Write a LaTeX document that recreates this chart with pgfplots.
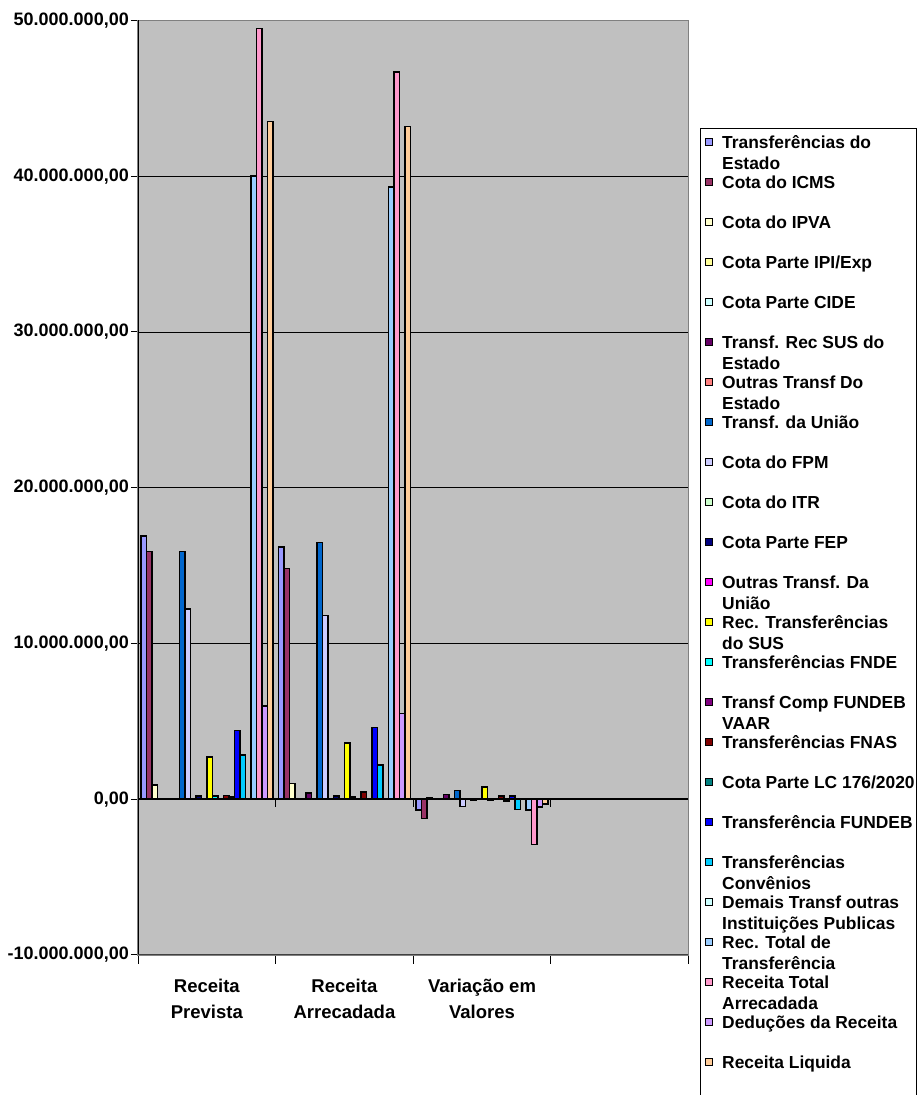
\documentclass[border=0pt]{standalone}
\usepackage{pgfplots}
\usepackage{pgfplotstable}
\pgfplotsset{compat=1.18}
\usepackage{fontspec}
\setmainfont{Liberation Sans}
\definecolor{c1}{HTML}{9999FF}
\definecolor{c2}{HTML}{993366}
\definecolor{c3}{HTML}{FFFFCC}
\definecolor{c4}{HTML}{FFFF99}
\definecolor{c5}{HTML}{CCFFFF}
\definecolor{c6}{HTML}{660066}
\definecolor{c7}{HTML}{FF8080}
\definecolor{c8}{HTML}{0066CC}
\definecolor{c9}{HTML}{CCCCFF}
\definecolor{c10}{HTML}{CCFFCC}
\definecolor{c11}{HTML}{000080}
\definecolor{c12}{HTML}{FF00FF}
\definecolor{c13}{HTML}{FFFF00}
\definecolor{c14}{HTML}{00FFFF}
\definecolor{c15}{HTML}{800080}
\definecolor{c16}{HTML}{800000}
\definecolor{c17}{HTML}{008080}
\definecolor{c18}{HTML}{0000FF}
\definecolor{c19}{HTML}{00CCFF}
\definecolor{c20}{HTML}{CCFFFF}
\definecolor{c21}{HTML}{99CCFF}
\definecolor{c22}{HTML}{FF99CC}
\definecolor{c23}{HTML}{CC99FF}
\definecolor{c24}{HTML}{FFCC99}
\definecolor{plotgrey}{HTML}{C0C0C0}
\definecolor{frame}{HTML}{808080}
\newcommand{\cf}{\fontsize{18bp}{21.7bp}\selectfont\bfseries}
\newcommand{\lf}{\fontsize{17.4bp}{21.7bp}\selectfont\bfseries}

\pgfplotstableread{
x s1 s2 s3 s4 s5 s6 s7 s8 s9 s10 s11 s12 s13 s14 s15 s16 s17 s18 s19 s20 s21 s22 s23 s24
0 16900000 15900000 900000 20000 10000 30000 0 15900000 12200000 20000 200000 0 2700000 200000 0 250000 150000 4400000 2850000 0 40000000 49500000 6000000 43500000
1 16200000 14800000 1000000 30000 10000 400000 0 16500000 11800000 10000 200000 0 3600000 150000 0 480000 30000 4600000 2200000 0 39300000 46700000 5500000 43200000
2 -700000 -1250000 80000 10000 0 300000 0 550000 -450000 -10000 -50000 0 800000 -50000 0 200000 -100000 200000 -650000 0 -700000 -2900000 -500000 -300000
}\data

\newcommand{\legentry}[4]{%
  \pgfmathsetmacro{\by}{1095-148.3-40*#1}%
  \filldraw[fill=#2,draw=black,line width=0.8bp] (705,{\by+3.3}) rectangle ++(7,7);
  \node[anchor=base west,inner sep=0pt,font=\lf] at (722,\by) {#3};
  \node[anchor=base west,inner sep=0pt,font=\lf] at (722,{\by-21.7}) {#4};
}

\begin{document}
\begin{tikzpicture}[x=1bp,y=1bp]
\begin{axis}[
  at={(138bp,140bp)}, anchor=south west,
  scale only axis, width=550.4bp, height=934.5bp,
  xmin=-0.5, xmax=3.5, ymin=-10000000, ymax=50000000,
  ybar=0pt, bar width=0.04,
  axis background/.style={fill=plotgrey},
  axis line style={draw=frame, line width=1.2bp},
  ymajorgrids, grid style={black, line width=0.9bp},
  ytick={-10000000,0,10000000,20000000,30000000,40000000,50000000},
  scaled y ticks=false,
  yticklabel style={font=\cf, inner sep=2bp, /pgf/number format/.cd, use comma, fixed, fixed zerofill, precision=2, assume math mode=true},
  xtick={0,1,2},
  xticklabels={{Receita\\Prevista},{Receita\\Arrecadada},{Variação em\\Valores}},
  xticklabel style={align=center, yshift=-14bp, font=\fontsize{18.5bp}{25.7bp}\selectfont\bfseries},
  minor xtick={-0.5,0.5,1.5,2.5,3.5},
  tick pos=left,
  tick align=outside, major tick length=7bp, minor tick length=9bp,
  major x tick style={draw=none},
  tick style={black, line width=1bp},
  every axis plot/.append style={draw=black, line width=1.5bp},
]
\draw[black, line width=2bp] (axis cs:-0.5,0) -- (axis cs:3.5,0);
\pgfplotsinvokeforeach{-0.5,0.5,1.5,2.5}{\draw[black,line width=1bp] (axis cs:#1,0) -- ([yshift=-8bp]axis cs:#1,0);}
\addplot[fill=c1] table[x=x,y=s1]{\data};
\addplot[fill=c2] table[x=x,y=s2]{\data};
\addplot[fill=c3] table[x=x,y=s3]{\data};
\addplot[fill=c4] table[x=x,y=s4]{\data};
\addplot[fill=c5] table[x=x,y=s5]{\data};
\addplot[fill=c6] table[x=x,y=s6]{\data};
\addplot[fill=c7] table[x=x,y=s7]{\data};
\addplot[fill=c8] table[x=x,y=s8]{\data};
\addplot[fill=c9] table[x=x,y=s9]{\data};
\addplot[fill=c10] table[x=x,y=s10]{\data};
\addplot[fill=c11] table[x=x,y=s11]{\data};
\addplot[fill=c12] table[x=x,y=s12]{\data};
\addplot[fill=c13] table[x=x,y=s13]{\data};
\addplot[fill=c14] table[x=x,y=s14]{\data};
\addplot[fill=c15] table[x=x,y=s15]{\data};
\addplot[fill=c16] table[x=x,y=s16]{\data};
\addplot[fill=c17] table[x=x,y=s17]{\data};
\addplot[fill=c18] table[x=x,y=s18]{\data};
\addplot[fill=c19] table[x=x,y=s19]{\data};
\addplot[fill=c20] table[x=x,y=s20]{\data};
\addplot[fill=c21] table[x=x,y=s21]{\data};
\addplot[fill=c22] table[x=x,y=s22]{\data};
\addplot[fill=c23] table[x=x,y=s23]{\data};
\addplot[fill=c24] table[x=x,y=s24]{\data};
\draw[black, line width=2bp] (rel axis cs:0,0) -- (rel axis cs:0,1);
\draw[black!75, line width=2bp] (rel axis cs:0,0) -- (rel axis cs:1,0);
\end{axis}
% legend box
\fill[white] (700,{1095-128.3}) rectangle (916,-10);
\legentry{0}{c1}{Transferências do}{Estado}
\legentry{1}{c2}{Cota do ICMS}{}
\legentry{2}{c3}{Cota do IPVA}{}
\legentry{3}{c4}{Cota Parte IPI/Exp}{}
\legentry{4}{c5}{Cota Parte CIDE}{}
\legentry{5}{c6}{Transf. Rec SUS do}{Estado}
\legentry{6}{c7}{Outras Transf Do}{Estado}
\legentry{7}{c8}{Transf. da União}{}
\legentry{8}{c9}{Cota do FPM}{}
\legentry{9}{c10}{Cota do ITR}{}
\legentry{10}{c11}{Cota Parte FEP}{}
\legentry{11}{c12}{Outras Transf. Da}{União}
\legentry{12}{c13}{Rec. Transferências}{do SUS}
\legentry{13}{c14}{Transferências FNDE}{}
\legentry{14}{c15}{Transf Comp FUNDEB}{VAAR}
\legentry{15}{c16}{Transferências FNAS}{}
\legentry{16}{c17}{Cota Parte LC 176/2020}{}
\legentry{17}{c18}{Transferência FUNDEB}{}
\legentry{18}{c19}{Transferências}{Convênios}
\legentry{19}{c20}{Demais Transf outras}{Instituições Publicas}
\legentry{20}{c21}{Rec. Total de}{Transferência}
\legentry{21}{c22}{Receita Total}{Arrecadada}
\legentry{22}{c23}{Deduções da Receita}{}
\legentry{23}{c24}{Receita Liquida}{}
\draw[black, line width=1bp] (700,{1095-128.3}) rectangle (916,-10);
\pgfresetboundingbox
\path[use as bounding box] (0,0) rectangle (919,1095);
\end{tikzpicture}
\end{document}
